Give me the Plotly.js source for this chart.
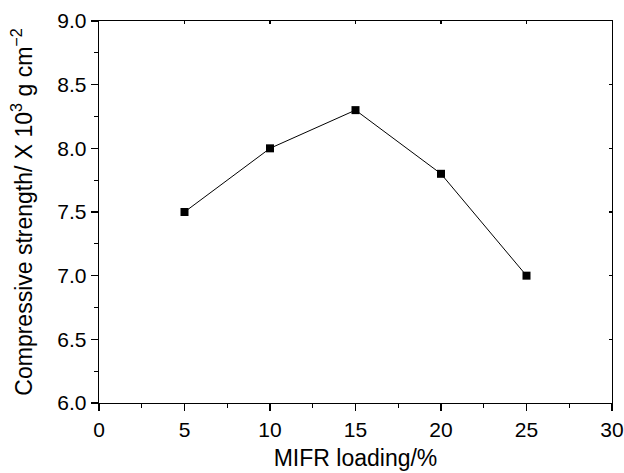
<!DOCTYPE html>
<html>
<head>
<meta charset="utf-8">
<script src="https://cdn.plot.ly/plotly-3.0.1.min.js"></script>
<style>html,body{margin:0;padding:0;background:#fff;}#chart{width:624px;height:473px;}</style>
</head>
<body>
<div id="chart"></div>
<script>
const loading = [5, 10, 15, 20, 25];
const strength = [7.5, 8.0, 8.3, 7.8, 7.0];
const xTickVals = [0, 5, 10, 15, 20, 25, 30];
const yTickVals = [6.0, 6.5, 7.0, 7.5, 8.0, 8.5, 9.0];

const font = {family: 'Liberation Sans, Arial, sans-serif', color: '#000'};
const trace = {
  x: loading, y: strength, type: 'scatter', mode: 'lines+markers',
  line: {color: '#000', width: 1},
  marker: {symbol: 'square', size: 8, color: '#000'},
  showlegend: false
};
const baseAxis = {
  showgrid: false, zeroline: false, showline: true, linecolor: '#000', linewidth: 1.3,
  ticks: 'outside', ticklen: 7, tickwidth: 1.3, tickcolor: '#000',
  tickfont: Object.assign({size: 21}, font)
};
const layout = {
  width: 624, height: 473,
  margin: {l: 99, r: 12, t: 21, b: 70},
  paper_bgcolor: '#fff', plot_bgcolor: '#fff',
  font: font,
  xaxis: Object.assign({}, baseAxis, {
    range: [0, 30], tickvals: xTickVals, ticktext: xTickVals.map(String),
    minor: {dtick: 2.5, tick0: 0, ticks: 'outside', ticklen: 4, tickwidth: 1.3, tickcolor: '#000'},
    title: {text: 'MIFR loading/%', font: Object.assign({size: 23}, font), standoff: 10}
  }),
  yaxis: Object.assign({}, baseAxis, {
    range: [6.0, 9.0], tickvals: yTickVals, ticktext: yTickVals.map(v => v.toFixed(1)),
    minor: {dtick: 0.25, tick0: 0, ticks: 'outside', ticklen: 4, tickwidth: 1.3, tickcolor: '#000'},
    title: {text: 'Compressive strength/ X 10<sup>3</sup> g cm<sup>\u22122</sup>', font: Object.assign({size: 23}, font), standoff: 18}
  }),
  xaxis2: {
    overlaying: 'x', side: 'top', range: [0, 30], showgrid: false, zeroline: false,
    showline: true, linecolor: '#000', linewidth: 1.3,
    ticks: 'inside', tickvals: [5, 10, 15, 20, 25], ticklen: 3, tickwidth: 1.3, tickcolor: '#000',
    showticklabels: false, anchor: 'y'
  },
  yaxis2: {
    overlaying: 'y', side: 'right', range: [6.0, 9.0], showgrid: false, zeroline: false,
    showline: true, linecolor: '#000', linewidth: 1.3,
    ticks: 'inside', tickvals: [6.5, 7.0, 7.5, 8.0, 8.5], ticklen: 3, tickwidth: 1.3, tickcolor: '#000',
    showticklabels: false, anchor: 'x'
  }
};
const dummy = {x: [0], y: [6], xaxis: 'x2', yaxis: 'y2', mode: 'markers', marker: {opacity: 0}, hoverinfo: 'skip', showlegend: false};
Plotly.newPlot('chart', [trace, dummy], layout, {displayModeBar: false, staticPlot: true});
</script>
</body>
</html>
